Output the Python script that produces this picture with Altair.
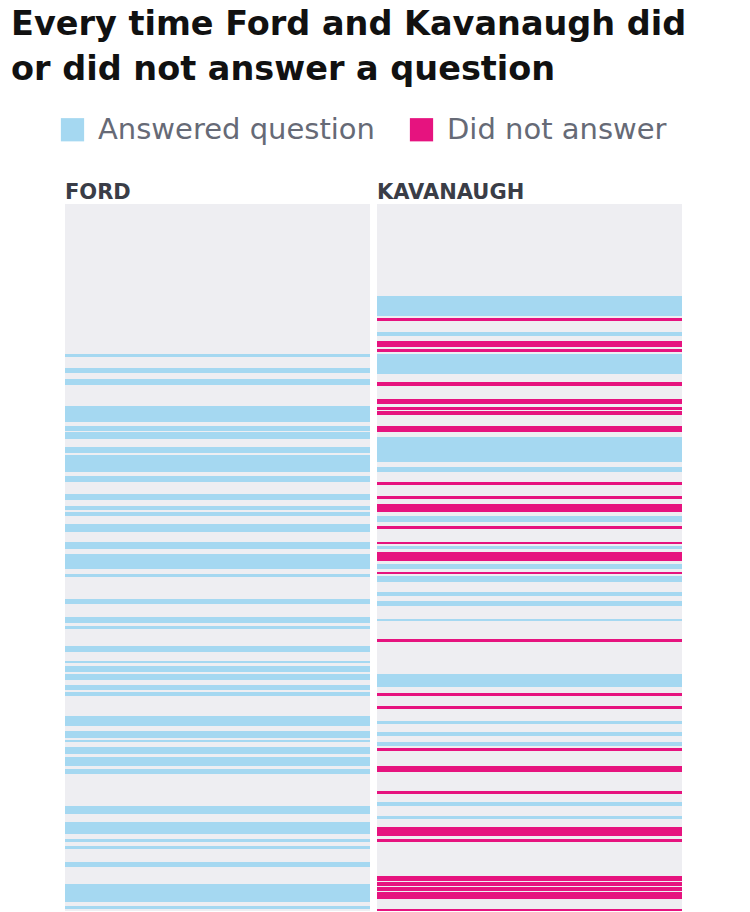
import altair as alt
import pandas as pd

# Stripe intervals (position down the hearing timeline, 0 = top of panel)
ford_start = [150, 164, 175, 202, 208, 222, 228, 243, 251, 272, 290, 302, 308, 320, 338,
              350, 370, 395, 413, 422, 442, 457, 462, 470, 481, 488, 512, 527, 536, 543,
              553, 565, 602, 618, 635, 642, 658, 680, 702]
ford_end = [153, 169, 181, 208, 218, 227, 235, 249, 268, 278, 296, 306, 312, 328, 345,
            365, 373, 400, 419, 425, 448, 459, 468, 476, 486, 492, 522, 534, 538, 550,
            562, 570, 610, 630, 638, 645, 663, 698, 705]

kav_start = [92, 114, 128, 137, 145, 150, 178, 195, 203, 207, 222, 233, 263, 278, 292,
             300, 312, 322, 338, 342, 348, 360, 368, 372, 388, 397, 415, 435, 470, 489,
             502, 517, 528, 538, 544, 562, 587, 598, 612, 623, 635, 672, 678, 683, 688, 705]
kav_end = [112, 117, 132, 143, 148, 170, 182, 200, 206, 211, 228, 258, 268, 281, 295,
           308, 318, 325, 340, 345, 357, 365, 370, 378, 392, 402, 417, 438, 483, 492,
           505, 520, 532, 542, 547, 568, 590, 602, 615, 632, 638, 677, 682, 687, 695, 707]
kav_answered = [1, 0, 1, 0, 0, 1, 0, 0, 0, 0, 0, 1, 1, 0, 0,
                0, 1, 0, 0, 1, 0, 1, 0, 1, 1, 1, 1, 0, 1, 0,
                0, 1, 1, 1, 0, 0, 0, 1, 1, 0, 0, 0, 0, 0, 0, 0]

labels = ["Answered question", "Did not answer"]
BLUE = "#a5d8f1"
PINK = "#e6137f"

ford_df = pd.DataFrame({"start": ford_start, "end": ford_end,
                        "status": [labels[0]] * len(ford_start)})
kav_df = pd.DataFrame({"start": kav_start, "end": kav_end,
                       "status": [labels[0] if a else labels[1] for a in kav_answered]})

PW, PH = 305, 707

color = alt.Color(
    "status:N",
    scale=alt.Scale(domain=labels, range=[BLUE, PINK]),
    legend=alt.Legend(
        title=None, orient="none", legendX=-7, legendY=-89, direction="horizontal",
        symbolType="square", symbolSize=540, symbolStrokeWidth=0, symbolOpacity=1,
        labelFontSize=29, labelFont="DejaVu Sans", labelColor="#666a76",
        labelOffset=11, columnPadding=32, labelLimit=400,
    ),
)


def panel(df, name):
    return alt.Chart(
        df,
        title=alt.TitleParams(name, anchor="start", fontSize=21, font="DejaVu Sans",
                              fontWeight="bold", color="#3a3d47", offset=1),
    ).mark_rect().encode(
        x=alt.value(0),
        x2=alt.value(PW),
        y=alt.Y("start:Q", scale=alt.Scale(domain=[0, PH], reverse=True, nice=False), axis=None),
        y2="end:Q",
        color=color,
    ).properties(width=PW, height=PH)


chart = alt.hconcat(panel(ford_df, "FORD"), panel(kav_df, "KAVANAUGH"), spacing=7).properties(
    title=alt.TitleParams(
        ["Every time Ford and Kavanaugh did", "or did not answer a question"],
        anchor="start", frame="group", dx=-54, fontSize=33.5, lineHeight=45,
        font="DejaVu Sans", fontWeight="bold", color="#111111", offset=28,
    ),
    padding={"left": 11, "top": 7, "right": 0, "bottom": 0},
    background="white",
).configure_view(stroke=None, fill="#eeeef2")

chart.save("out.html", embed_options={"renderer": "svg", "actions": False})
